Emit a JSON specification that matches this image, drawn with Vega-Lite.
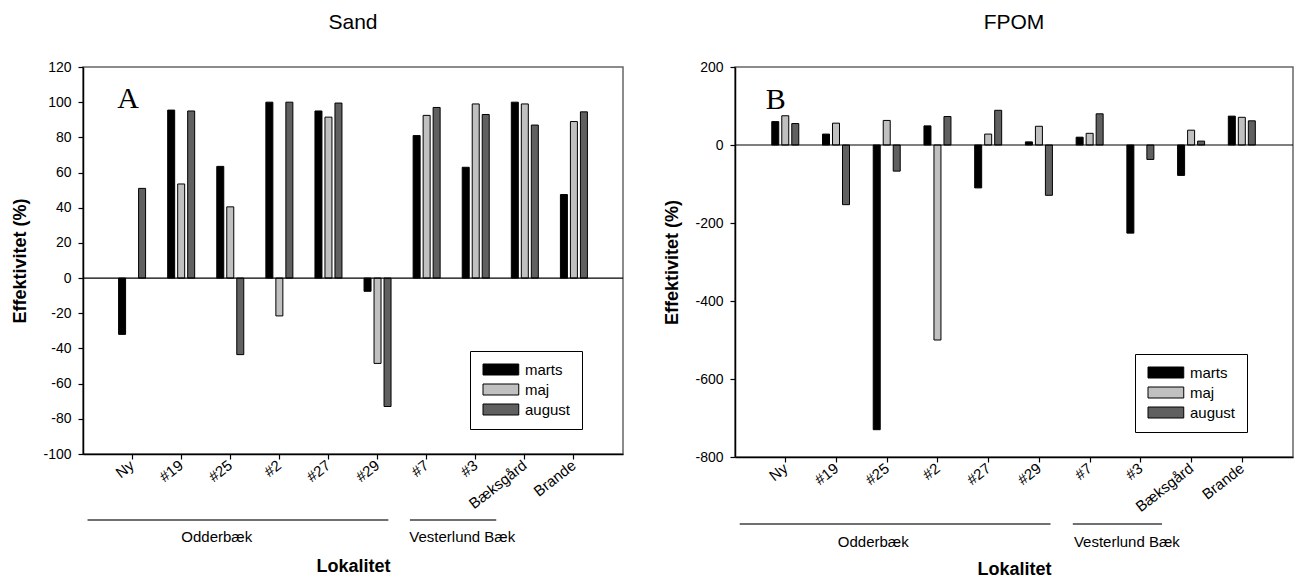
{
  "$schema": "https://vega.github.io/schema/vega-lite/v6.json",
  "autosize": {"type": "pad"},
  "padding": {"left": 11, "top": 11, "right": 0, "bottom": 0},
  "background": "white",
  "bounds": "flush",
  "spacing": 112,
  "resolve": {"scale": {"fill": "independent"}, "legend": {"fill": "independent"}},
  "config": {
    "font": "Liberation Sans",
    "view": {"stroke": "#666666", "strokeWidth": 1.5},
    "axis": {
      "grid": false,
      "domainColor": "black",
      "domainWidth": 1.5,
      "tickColor": "black",
      "tickWidth": 1.2,
      "tickSize": 5,
      "labelPadding": 7,
      "labelFontSize": 14,
      "labelColor": "black",
      "labelOverlap": false,
      "titleFontSize": 18,
      "titleFontWeight": "bold",
      "titleColor": "black"
    },
    "axisX": {"labelFontSize": 15},
    "axisY": {"labelExpr": "'' + datum.value"},
    "title": {"fontSize": 21, "fontWeight": "normal", "color": "black", "offset": 27, "anchor": "middle"},
    "legend": {
      "title": null,
      "orient": "none",
      "strokeColor": "black",
      "padding": 11,
      "symbolType": "M-1,-1H5.5V1H-1Z",
      "symbolSize": 121,
      "symbolStrokeColor": "black",
      "symbolStrokeWidth": 1,
      "labelFontSize": 15,
      "labelColor": "black",
      "labelOffset": 29,
      "rowPadding": 4
    }
  },
  "datasets": {
    "sand": [
      {"lokalitet": "Ny", "maaned": "marts", "effektivitet": -32},
      {"lokalitet": "Ny", "maaned": "august", "effektivitet": 51},
      {"lokalitet": "#19", "maaned": "marts", "effektivitet": 95.5},
      {"lokalitet": "#19", "maaned": "maj", "effektivitet": 53.5},
      {"lokalitet": "#19", "maaned": "august", "effektivitet": 95},
      {"lokalitet": "#25", "maaned": "marts", "effektivitet": 63.5},
      {"lokalitet": "#25", "maaned": "maj", "effektivitet": 40.5},
      {"lokalitet": "#25", "maaned": "august", "effektivitet": -43.5},
      {"lokalitet": "#2", "maaned": "marts", "effektivitet": 100},
      {"lokalitet": "#2", "maaned": "maj", "effektivitet": -21.5},
      {"lokalitet": "#2", "maaned": "august", "effektivitet": 100},
      {"lokalitet": "#27", "maaned": "marts", "effektivitet": 95},
      {"lokalitet": "#27", "maaned": "maj", "effektivitet": 91.5},
      {"lokalitet": "#27", "maaned": "august", "effektivitet": 99.5},
      {"lokalitet": "#29", "maaned": "marts", "effektivitet": -7.5},
      {"lokalitet": "#29", "maaned": "maj", "effektivitet": -48.5},
      {"lokalitet": "#29", "maaned": "august", "effektivitet": -73},
      {"lokalitet": "#7", "maaned": "marts", "effektivitet": 81},
      {"lokalitet": "#7", "maaned": "maj", "effektivitet": 92.5},
      {"lokalitet": "#7", "maaned": "august", "effektivitet": 97},
      {"lokalitet": "#3", "maaned": "marts", "effektivitet": 63},
      {"lokalitet": "#3", "maaned": "maj", "effektivitet": 99},
      {"lokalitet": "#3", "maaned": "august", "effektivitet": 93},
      {"lokalitet": "Bæksgård", "maaned": "marts", "effektivitet": 100},
      {"lokalitet": "Bæksgård", "maaned": "maj", "effektivitet": 99},
      {"lokalitet": "Bæksgård", "maaned": "august", "effektivitet": 87},
      {"lokalitet": "Brande", "maaned": "marts", "effektivitet": 47.5},
      {"lokalitet": "Brande", "maaned": "maj", "effektivitet": 89},
      {"lokalitet": "Brande", "maaned": "august", "effektivitet": 94.5}
    ],
    "fpom": [
      {"lokalitet": "Ny", "maaned": "marts", "effektivitet": 60},
      {"lokalitet": "Ny", "maaned": "maj", "effektivitet": 75},
      {"lokalitet": "Ny", "maaned": "august", "effektivitet": 55},
      {"lokalitet": "#19", "maaned": "marts", "effektivitet": 28},
      {"lokalitet": "#19", "maaned": "maj", "effektivitet": 56},
      {"lokalitet": "#19", "maaned": "august", "effektivitet": -153},
      {"lokalitet": "#25", "maaned": "marts", "effektivitet": -730},
      {"lokalitet": "#25", "maaned": "maj", "effektivitet": 63},
      {"lokalitet": "#25", "maaned": "august", "effektivitet": -67},
      {"lokalitet": "#2", "maaned": "marts", "effektivitet": 49},
      {"lokalitet": "#2", "maaned": "maj", "effektivitet": -500},
      {"lokalitet": "#2", "maaned": "august", "effektivitet": 73},
      {"lokalitet": "#27", "maaned": "marts", "effektivitet": -110},
      {"lokalitet": "#27", "maaned": "maj", "effektivitet": 28},
      {"lokalitet": "#27", "maaned": "august", "effektivitet": 89},
      {"lokalitet": "#29", "maaned": "marts", "effektivitet": 8},
      {"lokalitet": "#29", "maaned": "maj", "effektivitet": 48},
      {"lokalitet": "#29", "maaned": "august", "effektivitet": -129},
      {"lokalitet": "#7", "maaned": "marts", "effektivitet": 20},
      {"lokalitet": "#7", "maaned": "maj", "effektivitet": 30},
      {"lokalitet": "#7", "maaned": "august", "effektivitet": 80},
      {"lokalitet": "#3", "maaned": "marts", "effektivitet": -226},
      {"lokalitet": "#3", "maaned": "august", "effektivitet": -37},
      {"lokalitet": "Bæksgård", "maaned": "marts", "effektivitet": -78},
      {"lokalitet": "Bæksgård", "maaned": "maj", "effektivitet": 38},
      {"lokalitet": "Bæksgård", "maaned": "august", "effektivitet": 10},
      {"lokalitet": "Brande", "maaned": "marts", "effektivitet": 74},
      {"lokalitet": "Brande", "maaned": "maj", "effektivitet": 71},
      {"lokalitet": "Brande", "maaned": "august", "effektivitet": 62}
    ],
    "grupper": [
      {"gruppe": "Odderbæk", "fra": "Ny", "til": "#29", "midt": "#25"},
      {"gruppe": "Vesterlund Bæk", "fra": "#7", "til": "#3", "midt": "#3"}
    ],
    "enkelt": [{"id": 1}]
  },
  "hconcat": [
    {
      "title": "Sand",
      "width": 540,
      "height": 387,
      "layer": [
        {
          "data": {"name": "sand"},
          "mark": {"type": "bar", "stroke": "black", "strokeWidth": 1},
          "encoding": {
            "x": {
              "field": "lokalitet", "type": "nominal", "title": "Lokalitet",
              "scale": {"domain": ["Ny", "#19", "#25", "#2", "#27", "#29", "#7", "#3", "Bæksgård", "Brande"], "paddingInner": 0.45, "paddingOuter": 0.725},
              "axis": {"labelAngle": -38, "labelAlign": "right", "labelBaseline": "middle", "labelPadding": 4, "titlePadding": 46}
            },
            "xOffset": {"field": "maaned", "type": "nominal", "scale": {"domain": ["marts", "maj", "august"], "paddingInner": 0.3, "paddingOuter": 0}},
            "y": {
              "field": "effektivitet", "type": "quantitative", "title": "Effektivitet (%)",
              "scale": {"domain": [-100, 120], "nice": false, "zero": false},
              "axis": {"values": [-100, -80, -60, -40, -20, 0, 20, 40, 60, 80, 100, 120], "tickCount": 20, "titlePadding": 13}
            },
            "fill": {
              "field": "maaned", "type": "nominal",
              "scale": {"domain": ["marts", "maj", "august"], "range": ["#000000", "#c0c0c0", "#606060"]},
              "legend": {"legendX": 387, "legendY": 284}
            }
          }
        },
        {
          "data": {"name": "enkelt"},
          "mark": {"type": "rule", "color": "black", "strokeWidth": 1.2},
          "encoding": {"y": {"datum": 0, "type": "quantitative", "title": "Effektivitet (%)"}}
        },
        {
          "data": {"name": "enkelt"},
          "mark": {"type": "text", "text": "A", "font": "Liberation Serif", "fontSize": 30, "align": "center", "baseline": "alphabetic", "dx": -4, "color": "black"},
          "encoding": {
            "x": {"datum": "Ny", "type": "nominal", "title": "Lokalitet"},
            "y": {"datum": 96.6, "type": "quantitative", "title": "Effektivitet (%)"}
          }
        },
        {
          "data": {"name": "grupper"},
          "transform": [{"filter": "datum.gruppe === 'Odderbæk'"}],
          "mark": {"type": "rule", "color": "#707070", "strokeWidth": 2},
          "encoding": {
            "x": {"field": "fra", "type": "nominal", "bandPosition": -1.15, "title": "Lokalitet"},
            "x2": {"field": "til", "bandPosition": 0.9},
            "y": {"datum": -137.5, "type": "quantitative", "title": "Effektivitet (%)"}
          }
        },
        {
          "data": {"name": "grupper"},
          "transform": [{"filter": "datum.gruppe === 'Vesterlund Bæk'"}],
          "mark": {"type": "rule", "color": "#707070", "strokeWidth": 2},
          "encoding": {
            "x": {"field": "fra", "type": "nominal", "bandPosition": -0.12, "title": "Lokalitet"},
            "x2": {"field": "til", "bandPosition": 1.26},
            "y": {"datum": -137.5, "type": "quantitative", "title": "Effektivitet (%)"}
          }
        },
        {
          "data": {"name": "grupper"},
          "mark": {"type": "text", "fontSize": 15, "align": "center", "baseline": "middle", "color": "black"},
          "encoding": {
            "x": {"field": "midt", "type": "nominal", "bandPosition": 0, "title": "Lokalitet"},
            "y": {"datum": -147.2, "type": "quantitative", "title": "Effektivitet (%)"},
            "text": {"field": "gruppe"}
          }
        }
      ]
    },
    {
      "title": "FPOM",
      "width": 558,
      "height": 390,
      "layer": [
        {
          "data": {"name": "fpom"},
          "mark": {"type": "bar", "stroke": "black", "strokeWidth": 1},
          "encoding": {
            "x": {
              "field": "lokalitet", "type": "nominal", "title": "Lokalitet",
              "scale": {"domain": ["Ny", "#19", "#25", "#2", "#27", "#29", "#7", "#3", "Bæksgård", "Brande"], "paddingInner": 0.45, "paddingOuter": 0.725},
              "axis": {"labelAngle": -38, "labelAlign": "right", "labelBaseline": "middle", "labelPadding": 4, "titlePadding": 46}
            },
            "xOffset": {"field": "maaned", "type": "nominal", "scale": {"domain": ["marts", "maj", "august"], "paddingInner": 0.3, "paddingOuter": 0}},
            "y": {
              "field": "effektivitet", "type": "quantitative", "title": "Effektivitet (%)",
              "scale": {"domain": [-800, 200], "nice": false, "zero": false},
              "axis": {"values": [-800, -600, -400, -200, 0, 200], "tickCount": 20, "titlePadding": 13}
            },
            "fill": {
              "field": "maaned", "type": "nominal",
              "scale": {"domain": ["marts", "maj", "august"], "range": ["#000000", "#c0c0c0", "#606060"]},
              "legend": {"legendX": 400, "legendY": 287}
            }
          }
        },
        {
          "data": {"name": "enkelt"},
          "mark": {"type": "rule", "color": "black", "strokeWidth": 1.2},
          "encoding": {"y": {"datum": 0, "type": "quantitative", "title": "Effektivitet (%)"}}
        },
        {
          "data": {"name": "enkelt"},
          "mark": {"type": "text", "text": "B", "font": "Liberation Serif", "fontSize": 30, "align": "center", "baseline": "alphabetic", "dx": -10, "color": "black"},
          "encoding": {
            "x": {"datum": "Ny", "type": "nominal", "title": "Lokalitet"},
            "y": {"datum": 91.5, "type": "quantitative", "title": "Effektivitet (%)"}
          }
        },
        {
          "data": {"name": "grupper"},
          "transform": [{"filter": "datum.gruppe === 'Odderbæk'"}],
          "mark": {"type": "rule", "color": "#707070", "strokeWidth": 2},
          "encoding": {
            "x": {"field": "fra", "type": "nominal", "bandPosition": -1.15, "title": "Lokalitet"},
            "x2": {"field": "til", "bandPosition": 0.9},
            "y": {"datum": -971.8, "type": "quantitative", "title": "Effektivitet (%)"}
          }
        },
        {
          "data": {"name": "grupper"},
          "transform": [{"filter": "datum.gruppe === 'Vesterlund Bæk'"}],
          "mark": {"type": "rule", "color": "#707070", "strokeWidth": 2},
          "encoding": {
            "x": {"field": "fra", "type": "nominal", "bandPosition": -0.12, "title": "Lokalitet"},
            "x2": {"field": "til", "bandPosition": 1.26},
            "y": {"datum": -971.8, "type": "quantitative", "title": "Effektivitet (%)"}
          }
        },
        {
          "data": {"name": "grupper"},
          "mark": {"type": "text", "fontSize": 15, "align": "center", "baseline": "middle", "color": "black"},
          "encoding": {
            "x": {"field": "midt", "type": "nominal", "bandPosition": 0, "title": "Lokalitet"},
            "y": {"datum": -1018, "type": "quantitative", "title": "Effektivitet (%)"},
            "text": {"field": "gruppe"}
          }
        }
      ]
    }
  ]
}
